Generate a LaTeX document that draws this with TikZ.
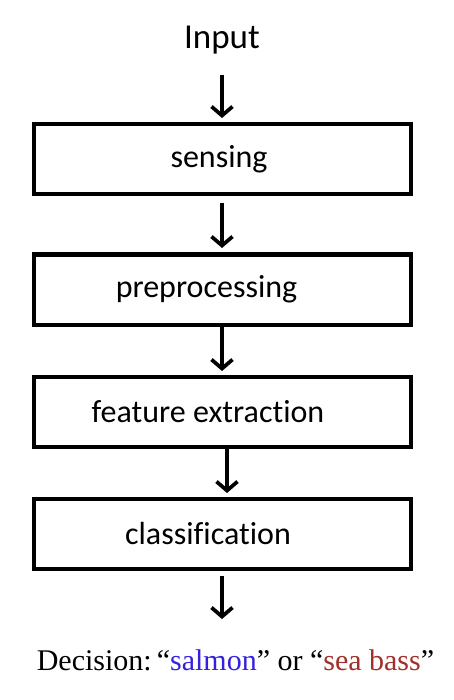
\documentclass[tikz,border=0pt]{standalone}
\usepackage{fontspec}
\setmainfont[Ligatures=NoCommon]{Carlito}
\newfontfamily\decfont{Liberation Serif}
\usetikzlibrary{arrows.meta}
\definecolor{salmonblue}{HTML}{3322DD}
\definecolor{bassred}{HTML}{A0302A}
\begin{document}
\begin{tikzpicture}[x=1pt,y=-1pt,
  stagebox/.style={draw, line width=4pt, minimum width=377pt, minimum height=70pt, inner sep=0pt},
  lbl/.style={font=\fontsize{32}{38}\selectfont, inner sep=0pt},
  flow/.style={line width=3.7pt, -{Straight Barb[length=9pt,width=21pt,line width=3.7pt]}}]
\useasboundingbox (0,0) rectangle (454,700);
\node[lbl, font=\fontsize{35}{40}\selectfont] (input) at (222,40) {Input};
\node[stagebox] (sens) at (222.5,159) {};
\node[stagebox] (prep) at (222.5,289.5) {};
\node[stagebox] (feat) at (222,412) {};
\node[stagebox] (clas) at (222,534) {};
\node[lbl] (tsens) at (219,159) {sensing};
\node[lbl] (tprep) at (206.5,289.5) {preprocessing};
\node[lbl] (tfeat) at (208,412) {feature extraction};
\node[lbl] (tclas) at (208,534) {classification};
\coordinate (a1s) at (222,75);
\coordinate (a1e) at (222,118);
\coordinate (a2s) at (222,203);
\coordinate (a2e) at (222,248);
\coordinate (a3s) at (222,327);
\coordinate (a3e) at (222,371);
\coordinate (a4s) at (227,449);
\coordinate (a4e) at (227,493);
\coordinate (a5s) at (222,576);
\coordinate (a5e) at (222,619);
\draw[flow] (a1s) -- (a1e);
\draw[flow] (a2s) -- (a2e);
\draw[flow] (a3s) -- (a3e);
\draw[flow] (a4s) -- (a4e);
\draw[flow] (a5s) -- (a5e);
\node[inner sep=0pt, font=\decfont\fontsize{30}{36}\selectfont] (dec) at (235.5,660)
  {Decision:\,“\textcolor{salmonblue}{salmon}” or “\textcolor{bassred}{sea bass}”};
\end{tikzpicture}
\end{document}
